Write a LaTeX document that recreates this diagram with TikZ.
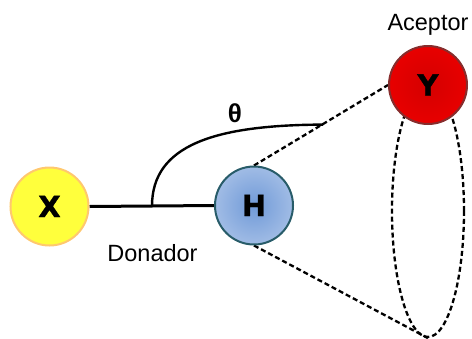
\documentclass[tikz,border=0pt]{standalone}
\usepackage{fontspec}
\setmainfont{Liberation Sans}
\newfontfamily\atomfont{DejaVu Sans}[BoldFeatures={FakeBold=1.2}]
\usetikzlibrary{shapes.geometric,backgrounds}

% atom colours
\definecolor{xfill}{RGB}{255,255,60}
\definecolor{xline}{RGB}{255,200,110}
\definecolor{hin}{RGB}{112,154,216}
\definecolor{hout}{RGB}{205,219,241}
\definecolor{hline}{RGB}{40,92,105}
\definecolor{yin}{RGB}{212,0,0}
\definecolor{yout}{RGB}{250,0,0}
\definecolor{yline}{RGB}{135,45,45}

% radial fills that reach the outer colour at the rim
\pgfdeclareradialshading{hball}{\pgfpoint{0bp}{0bp}}{color(0bp)=(hin); color(48bp)=(hout); color(50bp)=(hout)}
\pgfdeclareradialshading{yball}{\pgfpoint{0bp}{0bp}}{color(0bp)=(yin); color(48bp)=(yout); color(50bp)=(yout)}

\tikzset{
  atom/.style={circle, minimum size=78pt, inner sep=0pt, line width=2pt,
    font=\atomfont\bfseries\fontsize{29}{29}\selectfont,
    text height=21pt, text depth=0pt},
  hbond/.style={draw=black, dash pattern=on 5pt off 3pt, line width=2.3pt},
  caption/.style={anchor=base, inner sep=0pt, font=\fontsize{23.5}{25}\selectfont},
}

\begin{document}
\begin{tikzpicture}[x=1pt, y=-1pt]
\useasboundingbox (0,0) rectangle (472,338);

% atoms
\node[atom, draw=xline, fill=xfill] (X) at (49.5,206.5) {X};
\node[atom, draw=hline, shading=hball] (H) at (254,205.5) {H};
\node[atom, draw=yline, shading=yball] (Y) at (428,85) {Y};

% captions
\node[caption] (acc) at (428,30) {Aceptor};
\node[caption] (don) at (152.5,261) {Donador};
\node[anchor=base, inner sep=0pt, font=\bfseries\fontsize{26}{26}\selectfont] (theta) at (235,122) {θ};

\begin{pgfonlayer}{background}
  % cone of acceptor positions
  \node[ellipse, hbond, minimum width=72pt, minimum height=252pt, inner sep=0pt] (cone) at (428,211) {};
  \draw[hbond] (H.north) -- (Y.west);
  \draw[hbond] (H.south) -- (cone.south);
  % covalent bond and the angle arc
  \draw[line width=3pt] (X.east) -- (H.west);
  \coordinate (pivot) at (152,206);
  \coordinate (arcend) at (323,124.6);
  \draw[line width=2.4pt] (pivot) .. controls (152,145) and (215,125) .. (arcend);
\end{pgfonlayer}
\end{tikzpicture}
\end{document}
